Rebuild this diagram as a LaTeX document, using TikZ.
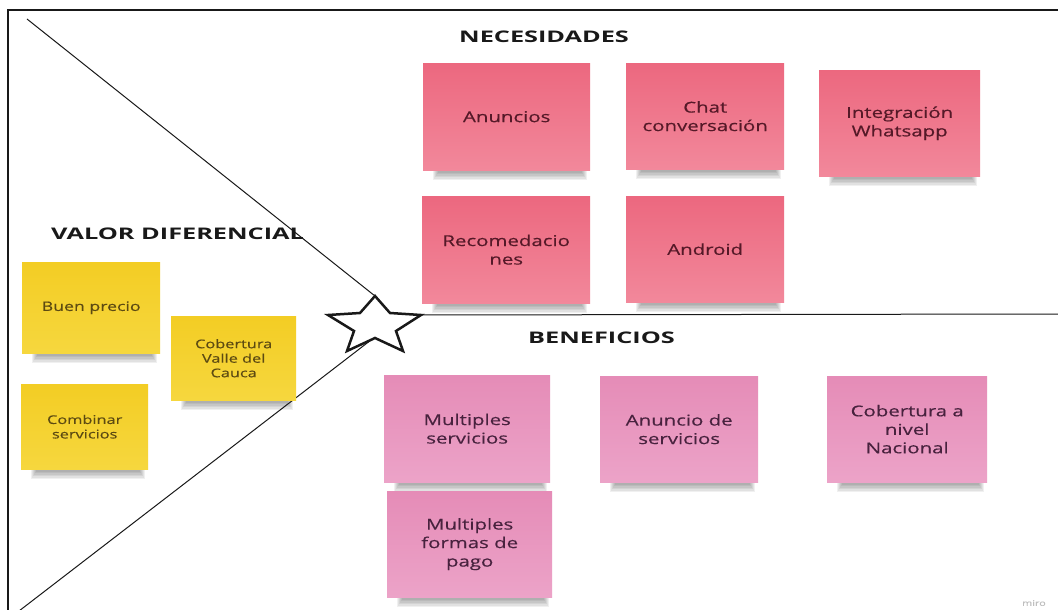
\documentclass[tikz,border=0pt]{standalone}
\usepackage{fontspec}
\setmainfont{Open Sans}
\newfontfamily\notefont[FakeStretch=1.36, FakeBold=0.4]{Open Sans}
\newfontfamily\titlefont[FakeStretch=1.58]{Open Sans}
\usetikzlibrary{backgrounds}
\definecolor{necT}{RGB}{236,104,127}
\definecolor{necB}{RGB}{242,136,155}
\definecolor{benT}{RGB}{229,140,183}
\definecolor{benB}{RGB}{236,163,200}
\definecolor{yelT}{RGB}{243,205,36}
\definecolor{yelB}{RGB}{246,215,62}
\definecolor{necTx}{RGB}{85,25,40}
\definecolor{benTx}{RGB}{72,34,62}
\definecolor{yelTx}{RGB}{92,74,18}
\definecolor{ink}{RGB}{25,25,25}
\tikzset{
  notebase/.style={rectangle, inner sep=0pt, align=center},
  necnote/.style={notebase, top color=necT, bottom color=necB, text=necTx, font=\notefont\fontsize{15}{18.5}\selectfont},
  bennote/.style={notebase, top color=benT, bottom color=benB, text=benTx, font=\notefont\fontsize{15}{18.5}\selectfont},
  yelnote/.style={notebase, top color=yelT, bottom color=yelB, text=yelTx, font=\notefont\fontsize{12}{14.5}\selectfont},
  sectitle/.style={anchor=west, inner sep=0pt, text=ink, font=\titlefont\bfseries\fontsize{16}{18}\selectfont},
  frameline/.style={line width=2.5pt, draw=ink},
  guide/.style={line width=1pt, draw=ink},
  starline/.style={line width=2.5pt, draw=ink, line join=miter, fill=white}
}
\newcommand\stickynote[7]{%
  \node[#2, anchor=north west, minimum width={#5-#3}, minimum height={#6-#4}] (#1) at (#3,#4) {#7};
  \begin{pgfonlayer}{background}
    \foreach \k in {0,...,5}{%
      \fill[black, opacity=0.06] ([xshift=10pt+\k pt, yshift=2pt]#1.south west) rectangle ([xshift=-3pt-\k pt, yshift=-10pt+1.5*\k pt]#1.south east);
    }
  \end{pgfonlayer}%
}
\begin{document}
\begin{tikzpicture}[x=1pt, y=-1pt]
\useasboundingbox (0,0) rectangle (1058,610);
\begin{pgfonlayer}{background}
\fill[white] (0,0) rectangle (1058,610);
\end{pgfonlayer}

% frame
\coordinate (fbl) at (8,611);
\coordinate (ftl) at (8,10);
\coordinate (ftr) at (1059,10);
\draw[frameline] (fbl) -- (ftl) -- (ftr);

% star points
\coordinate (sTop) at (375,296);
\coordinate (sIR) at (390,313);
\coordinate (sRight) at (421,315);
\coordinate (sILR) at (396,331);
\coordinate (sBR) at (403,351);
\coordinate (sIB) at (375,338);
\coordinate (sBL) at (347,351);
\coordinate (sILL) at (354,331);
\coordinate (sLeft) at (328,315);
\coordinate (sIL) at (360,313);

% guide lines
\coordinate (gTL) at (27,19);
\coordinate (gR) at (1059,314);
\coordinate (gBL) at (19,611);
\coordinate (gLS) at (371,340);
\draw[guide] (gTL) -- (sTop);
\draw[guide] (sRight) -- (gR);
\draw[guide] (gLS) -- (gBL);
\draw[starline] (sTop) -- (sIR) -- (sRight) -- (sILR) -- (sBR) -- (sIB) -- (sBL) -- (sILL) -- (sLeft) -- (sIL) -- cycle;

% titles
\node[sectitle] (tNec) at (459,37) {NECESIDADES};
\node[sectitle] (tVal) at (51,234) {VALOR DIFERENCIAL};
\node[sectitle] (tBen) at (528,338) {BENEFICIOS};

% necesidades
\stickynote{nAnun}{necnote}{423}{63}{590}{170}{Anuncios}
\stickynote{nChat}{necnote}{626}{63}{784}{169}{Chat\\conversación}
\stickynote{nInt}{necnote}{819}{70}{980}{176}{Integración\\Whatsapp}
\stickynote{nRec}{necnote}{422}{196}{590}{303}{Recomedacio\\nes}
\stickynote{nAnd}{necnote}{626}{196}{784}{302}{Android}

% beneficios
\stickynote{bMul}{bennote}{384}{375}{550}{482}{Multiples\\servicios}
\stickynote{bAnu}{bennote}{600}{376}{758}{482}{Anuncio de\\servicios}
\stickynote{bCob}{bennote}{827}{376}{987}{482}{Cobertura a\\nivel\\Nacional}
\stickynote{bFor}{bennote}{387}{491}{552}{597}{Multiples\\formas de\\pago}

% valor diferencial
\stickynote{vBuen}{yelnote}{22}{262}{160}{353}{{\fontsize{13}{15}\selectfont Buen precio}}
\stickynote{vCob}{yelnote}{171}{316}{296}{400}{Cobertura\\Valle del\\Cauca}
\stickynote{vCom}{yelnote}{21}{384}{148}{469}{Combinar\\servicios}

% watermark
\node[anchor=east, inner sep=0pt, text=black!25, font=\notefont\fontsize{8}{9}\selectfont] (miro) at (1046,603) {miro};
\end{tikzpicture}
\end{document}
